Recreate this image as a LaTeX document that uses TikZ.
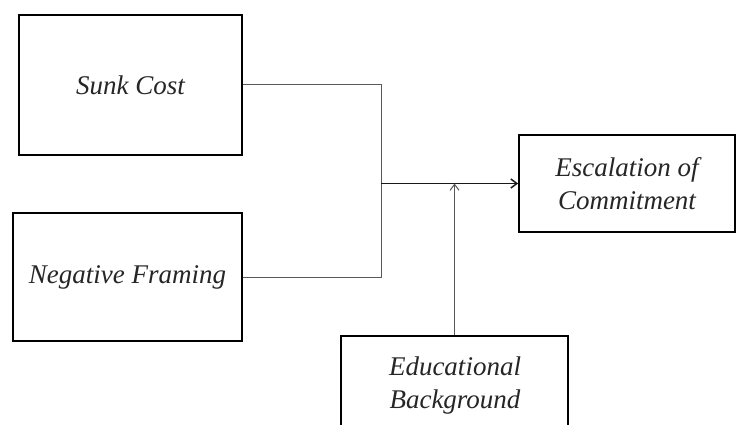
\documentclass[tikz,border=0pt]{standalone}
\usepackage{fontspec}
\setmainfont{Liberation Serif}
\usetikzlibrary{arrows.meta}
\begin{document}
\begin{tikzpicture}[x=1pt,y=-1pt,
  box/.style={draw=black,line width=1.8pt,inner sep=0pt,align=center,text=black!85,
    font=\fontsize{27}{33}\selectfont\itshape},
  conn/.style={draw=black!65,line width=1pt},
  arr/.style={conn,-{Straight Barb[length=6pt,width=9pt]}}]
\useasboundingbox (0,0) rectangle (737,425);
\clip (0,0) rectangle (737,425);
\fill[white] (0,0) rectangle (737,425);
\node[box,minimum width=223pt,minimum height=140pt] (sunk) at (130.5,85) {\raisebox{-3pt}{Sunk Cost}};
\node[box,minimum width=229pt,minimum height=128pt] (neg) at (127.5,277) {Negative Framing};
\node[box,minimum width=216pt,minimum height=97pt] (esc) at (627,183.5) {Escalation of\\Commitment};
\node[box,minimum width=227pt,minimum height=110pt,anchor=north] (edu) at (454.5,335) {};
\node[font=\fontsize{27}{33}\selectfont\itshape,text=black!85,align=center] (edut) at (455,386) {Educational\\Background};
\coordinate (j) at (381,183.5);
\draw[conn] (sunk.east) -| (j);
\draw[conn] (neg.east) -| (j);
\draw[arr,draw=black!90,line width=1.5pt] (j) -- (esc.west);
\draw[arr] (edu.north) -- (edu.north |- j);
\end{tikzpicture}
\end{document}
